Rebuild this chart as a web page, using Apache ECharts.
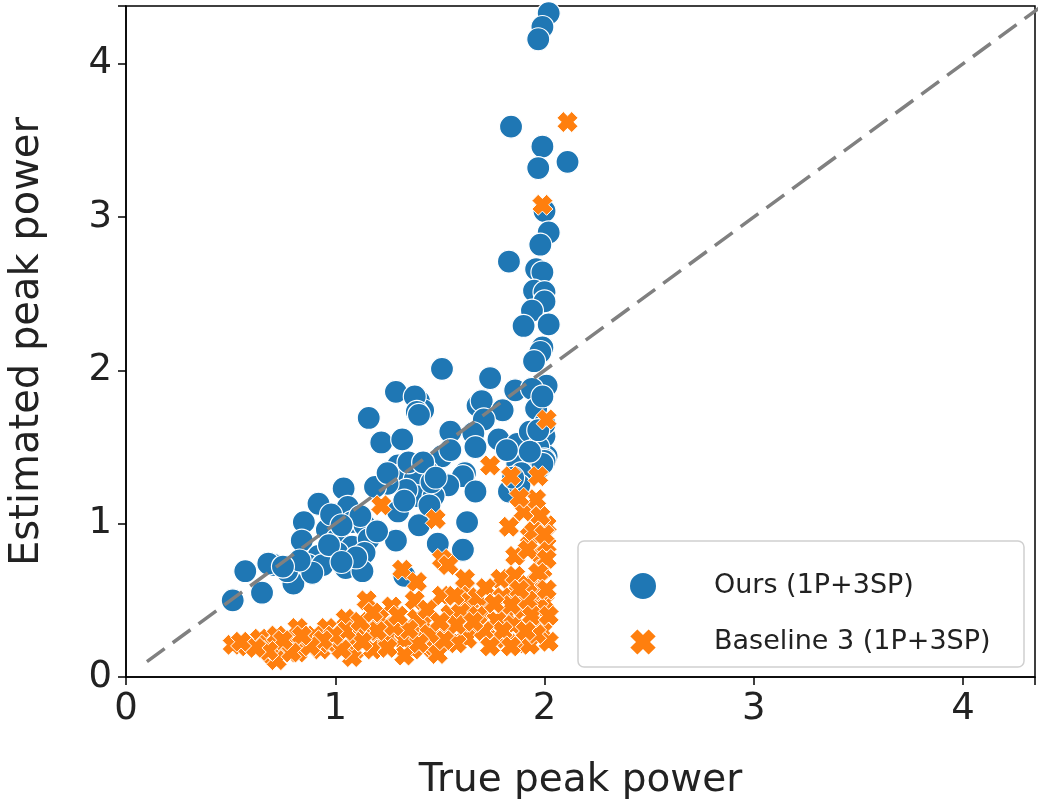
<!DOCTYPE html>
<html>
<head>
<meta charset="utf-8">
<script src="https://cdn.jsdelivr.net/npm/echarts@6/dist/echarts.min.js"></script>
<style>
html,body{margin:0;padding:0;background:#fff;}
#chart{width:1038px;height:805px;}
</style>
</head>
<body>
<div id="chart"></div>
<script>
// ---- data ----
const xTitle = 'True peak power';
const yTitle = 'Estimated peak power';
const seriesNames = ['Ours (1P+3SP)', 'Baseline 3 (1P+3SP)'];
const xMax = 4.344;
const yMax = 4.377;
const diagonal = [[0.1, 0.1], [4.5, 4.5]];

const oursPoints = [
  [2.02,4.33],[1.99,4.24],[1.97,4.16],[1.84,3.59],[1.99,3.46],[2.11,3.36],[1.97,3.32],
  [2.00,3.04],[2.02,2.90],[1.98,2.82],[1.83,2.71],[1.96,2.66],[1.99,2.64],[1.95,2.52],
  [2.00,2.51],[2.00,2.45],[1.94,2.39],[1.90,2.29],[2.02,2.30],[1.99,2.15],[1.98,2.12],
  [1.95,2.06],[1.51,2.01],[1.74,1.95],[2.01,1.90],[1.86,1.87],[1.94,1.88],[1.40,1.80],
  [1.42,1.74],[1.68,1.77],[1.70,1.80],[1.80,1.74],[1.96,1.75],[1.71,1.68],[1.55,1.60],
  [1.66,1.59],[1.78,1.55],[1.87,1.52],[2.00,1.57],[1.93,1.60],[1.51,1.44],[1.67,1.50],
  [2.01,1.44],[1.97,1.40],[1.98,1.37],[1.44,1.34],[1.62,1.33],[1.87,1.39],[1.89,1.33],
  [1.29,1.86],[1.38,1.83],[1.39,1.73],[1.40,1.71],[1.16,1.69],[1.22,1.53],[1.32,1.55],
  [1.30,1.38],[1.29,1.31],[1.38,1.29],[1.39,1.18],[1.30,1.08],[1.29,0.89],[1.40,0.99],
  [1.04,1.23],[0.92,1.13],[1.06,1.11],[0.85,1.01],[0.96,0.96],[1.08,1.01],[1.14,0.99],
  [0.84,0.89],[1.01,0.90],[1.08,0.85],[1.16,0.90],[0.92,0.79],[1.01,0.81],[1.14,0.81],
  [0.87,0.73],[1.09,0.74],[1.05,0.71],[1.13,0.69],[0.71,0.73],[0.68,0.74],[0.57,0.69],
  [0.80,0.61],[0.65,0.55],[0.51,0.50],[0.94,0.73],[0.89,0.68],[0.77,0.69],[1.61,1.31],
  [1.54,1.25],[1.67,1.21],[1.83,1.21],[1.47,1.18],[1.45,1.12],[1.63,1.01],[1.61,0.83],
  [1.49,0.87],[1.88,1.25],[1.34,1.22],[1.35,1.40],[1.25,1.26],[1.42,1.40],[1.33,1.15],
  [1.99,1.83],[2.00,1.65],[1.97,1.50],[2.00,1.42],[2.00,1.41],[1.99,1.39],[1.33,0.66],
  [1.12,1.05],[1.20,0.95],[1.46,1.27],[1.19,1.24],[0.98,1.06],[1.03,0.99],
  [1.48,1.30],[1.55,1.48],[1.25,1.33],[1.10,0.78],[0.97,0.86],[1.03,0.75],[0.83,0.76],
  [0.75,0.72],[1.85,1.30],[1.93,1.47],[1.97,1.61],[1.82,1.48]
];

const baselinePoints = [
  [2.11,3.62],[1.99,3.08],[2.01,1.68],[1.74,1.38],[1.84,1.31],[1.97,1.31],[1.22,1.12],
  [1.48,1.03],[1.90,1.08],[1.96,1.16],[1.83,0.98],[2.01,0.99],[1.51,0.77],[1.54,0.73],
  [1.32,0.70],[1.39,0.62],[1.86,0.79],[1.99,0.79],[2.01,0.86],[1.79,0.64],[1.86,0.66],
  [1.96,0.62],[1.62,0.58],[1.51,0.53],[1.70,0.43],[1.86,0.53],[2.00,0.49],[1.64,0.49],
  [1.82,0.40],[1.96,0.36],[1.54,0.29],[1.66,0.32],[1.77,0.25],[1.87,0.22],[1.99,0.30],
  [2.02,0.23],[1.47,0.18],[1.63,0.25],[1.93,0.21],[1.85,0.34],[1.98,0.56],[1.97,0.45],
  [1.99,0.70],[1.42,0.35],[1.48,0.19],[1.38,0.50],[1.15,0.50],[1.27,0.46],[1.05,0.38],
  [1.21,0.38],[1.39,0.38],[0.96,0.32],[0.82,0.32],[1.30,0.29],[1.01,0.24],[1.15,0.30],
  [0.77,0.21],[0.86,0.22],[1.09,0.17],[1.21,0.23],[1.44,0.25],[0.93,0.18],[1.18,0.18],
  [1.37,0.18],[0.82,0.16],[0.51,0.21],[0.58,0.20],[0.64,0.25],[0.70,0.14],[0.67,0.21],
  [0.74,0.19],[0.72,0.27],[0.90,0.27],[0.97,0.22],[1.10,0.27],[1.25,0.26],[1.33,0.24],
  [1.55,0.41],[1.68,0.52],[1.77,0.37],[1.90,0.44],[1.93,0.92],[1.92,0.60],[1.88,1.17],
  [1.98,1.05],[0.72,0.11],[1.08,0.13],[1.49,0.15],[1.33,0.14],[1.60,0.42],[1.72,0.58],
  [1.80,0.52],
  [1.95,0.95],[2.00,0.93],[1.92,0.83],[2.01,0.77],[1.97,0.68],[1.92,0.50],[1.94,0.40],
  [2.02,0.40],[1.96,0.28],[1.91,0.30],[2.01,0.57],[1.88,0.57],[1.84,0.47],[1.80,0.30],
  [1.84,0.20],[1.71,0.30],[1.74,0.20],[1.58,0.22],[1.58,0.34],[1.52,0.24],[1.45,0.28],
  [1.40,0.22],[1.35,0.31],[1.28,0.33],[1.25,0.19],[1.20,0.30],[1.13,0.23],[1.05,0.30],
  [1.03,0.18],[0.99,0.27],[0.94,0.24],[0.88,0.20],[0.84,0.27],[0.79,0.16],[0.75,0.24],
  [0.68,0.17],[0.62,0.19],[0.55,0.23],[1.12,0.36],[1.18,0.42],[1.30,0.40],[1.44,0.44],
  [1.57,0.53],[1.68,0.40],[1.76,0.48],[1.62,0.64],[1.66,0.36],[1.50,0.36]
];

// ---- chart ----
const FONT = 'DejaVu Sans';
const xPath = 'path://M0,3 L3,0 L5,2 L7,0 L10,3 L8,5 L10,7 L7,10 L5,8 L3,10 L0,7 L2,5 Z';
const isInt = v => Math.abs(v - Math.round(v)) < 1e-9;

const chart = echarts.init(document.getElementById('chart'), null, {renderer: 'canvas'});
chart.setOption({
  animation: false,
  backgroundColor: '#fff',
  grid: {left: 126, right: 1, top: 6, bottom: 126, show: true, borderColor: '#000', borderWidth: 1.5, backgroundColor: '#fff'},
  xAxis: {
    type: 'value', min: 0, max: xMax, interval: 1,
    name: xTitle, nameLocation: 'middle', nameGap: 84,
    nameTextStyle: {fontFamily: FONT, fontSize: 39, color: '#222'},
    axisLine: {show: true, lineStyle: {color: '#000', width: 1.5}},
    axisTick: {show: true, length: 8, lineStyle: {color: '#000', width: 1.5}},
    axisLabel: {fontFamily: FONT, fontSize: 37, color: '#222', margin: 14, formatter: v => isInt(v) ? String(Math.round(v)) : ''},
    splitLine: {show: false}
  },
  yAxis: {
    type: 'value', min: 0, max: yMax, interval: 1,
    name: yTitle, nameLocation: 'middle', nameGap: 78,
    nameTextStyle: {fontFamily: FONT, fontSize: 40, color: '#222'},
    axisLine: {show: true, lineStyle: {color: '#000', width: 1.5}},
    axisTick: {show: true, length: 8, lineStyle: {color: '#000', width: 1.5}},
    axisLabel: {fontFamily: FONT, fontSize: 37, color: '#222', margin: 14, formatter: v => isInt(v) ? String(Math.round(v)) : ''},
    splitLine: {show: false}
  },
  legend: {
    orient: 'vertical', left: 623, top: 566,
    itemWidth: 28, itemHeight: 28, itemGap: 26,
    textStyle: {fontFamily: FONT, fontSize: 27, color: '#222', padding: [0, 0, 0, 52]},
    data: [
      {name: seriesNames[0], icon: 'circle'},
      {name: seriesNames[1], icon: xPath}
    ],
    z: 20
  },
  graphic: [{
    type: 'rect', shape: {x: 578, y: 541, width: 446, height: 126, r: 6},
    style: {fill: 'rgba(255,255,255,0.8)', stroke: '#d0d0d0', lineWidth: 1.5}, z: 10
  }],
  series: [
    {
      name: seriesNames[0], type: 'scatter', data: oursPoints, symbol: 'circle', symbolSize: 23,
      itemStyle: {color: '#1f77b4', borderColor: '#fff', borderWidth: 1.2, opacity: 1}, z: 2
    },
    {
      name: 'diag', type: 'line', data: diagonal, symbol: 'none', silent: true,
      lineStyle: {color: '#808080', width: 3.5, type: [22, 10]}, z: 3
    },
    {
      name: seriesNames[1], type: 'scatter', data: baselinePoints, symbol: xPath, symbolSize: 21,
      itemStyle: {color: '#ff7f0e', borderColor: '#fff', borderWidth: 1, opacity: 1}, z: 4
    }
  ]
});
</script>
</body>
</html>
